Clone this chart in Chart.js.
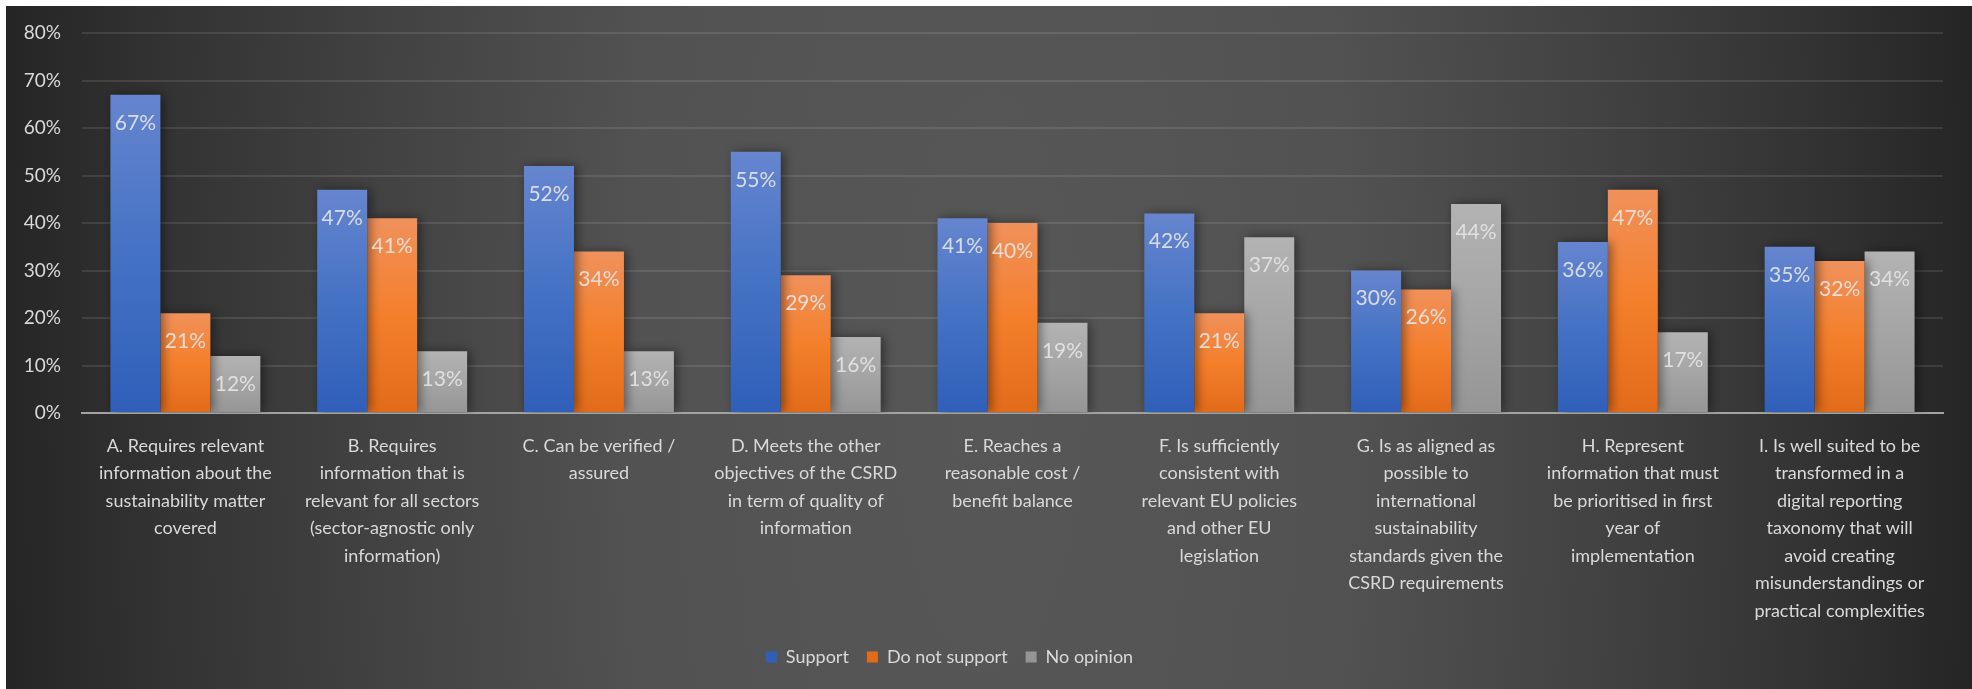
<!DOCTYPE html>
<html>
<head>
<meta charset="utf-8">
<title>ESRS survey</title>
<script src="https://cdn.jsdelivr.net/npm/chart.js@4.4.1/dist/chart.umd.min.js"></script>
<style>
	html, body { margin: 0; padding: 0; background: #fff; overflow: hidden; }
	#chart { position: absolute; left: 6px; top: 6px; }
</style>
</head>
<body>
<canvas id="chart" width="1966" height="683"></canvas>
<script>
var categories = [
	["A. Requires relevant", "information about the", "sustainability matter", "covered"],
	["B. Requires", "information that is", "relevant for all sectors", "(sector-agnostic only", "information)"],
	["C. Can be verified /", "assured"],
	["D. Meets the other", "objectives of the CSRD", "in term of quality of", "information"],
	["E. Reaches a", "reasonable cost /", "benefit balance"],
	["F. Is sufficiently", "consistent with", "relevant EU policies", "and other EU", "legislation"],
	["G. Is as aligned as", "possible to", "international", "sustainability", "standards given the", "CSRD requirements"],
	["H. Represent", "information that must", "be prioritised in first", "year of", "implementation"],
	["I. Is well suited to be", "transformed in a", "digital reporting", "taxonomy that will", "avoid creating", "misunderstandings or", "practical complexities"]
];
var support = [67, 47, 52, 55, 41, 42, 30, 36, 35];
var doNotSupport = [21, 41, 34, 29, 40, 21, 26, 47, 32];
var noOpinion = [12, 13, 13, 16, 19, 37, 44, 17, 34];
var yTicks = [0, 10, 20, 30, 40, 50, 60, 70, 80];

var FONT = "Lato, 'Open Sans', sans-serif";
var TEXT = '#d9d9d9';

// top, middle, bottom shades of each bar
var shades = {
	blue: ['#6685cf', '#4472c4', '#2f5fb9'],
	orange: ['#f0915b', '#f47f2b', '#e26b19'],
	gray: ['#b3b3b3', '#a5a5a5', '#959595']
};

function barFill(shade) {
	return function(context) {
		if (context.type !== 'data')
			return shade[1];
		var y = context.chart.scales.y;
		if (!y || !context.chart.chartArea)
			return shade[1];
		var top = y.getPixelForValue(context.raw);
		var bottom = y.getPixelForValue(0);
		if (!isFinite(top) || !isFinite(bottom) || top === bottom)
			return shade[1];
		var g = context.chart.ctx.createLinearGradient(0, top, 0, bottom);
		g.addColorStop(0, shade[0]);
		g.addColorStop(0.5, shade[1]);
		g.addColorStop(1, shade[2]);
		return g;
	};
}

var background = {
	id: 'background',
	beforeDraw: function(chart) {
		var ctx = chart.ctx;
		var w = chart.width, h = chart.height;
		var cx = w / 2, cy = h * 0.55, sy = 3;
		ctx.save();
		ctx.translate(cx, cy);
		ctx.scale(1, sy);
		var g = ctx.createRadialGradient(0, 0, 0, 0, 0, w * 0.52);
		g.addColorStop(0, '#575757');
		g.addColorStop(0.35, '#525252');
		g.addColorStop(0.6, '#424242');
		g.addColorStop(0.82, '#323232');
		g.addColorStop(1, '#222222');
		ctx.fillStyle = g;
		ctx.fillRect(-cx, -cy / sy, w, h / sy);
		ctx.restore();
	}
};

var barLabels = {
	id: 'barLabels',
	beforeDatasetsDraw: function(chart) {
		var ctx = chart.ctx;
		ctx.save();
		ctx.shadowColor = 'rgba(0, 0, 0, 0.45)';
		ctx.shadowBlur = 10;
		ctx.shadowOffsetX = 3;
	},
	afterDatasetsDraw: function(chart) {
		var ctx = chart.ctx;
		ctx.restore();
		ctx.save();
		ctx.font = '21px ' + FONT;
		ctx.fillStyle = 'rgba(230, 230, 230, 0.9)';
		ctx.textAlign = 'center';
		ctx.textBaseline = 'middle';
		chart.data.datasets.forEach(function(ds, i) {
			chart.getDatasetMeta(i).data.forEach(function(bar, j) {
				ctx.fillText(ds.data[j] + '%', bar.x, bar.y + 28);
			});
		});
		ctx.restore();
	}
};

var legendShift = {
	id: 'legendShift',
	afterLayout: function(chart) {
		chart.legend.left -= 25;
		chart.legend.right -= 25;
	}
};

function createChart() {
	new Chart(document.getElementById('chart'), {
		type: 'bar',
		data: {
			labels: categories,
			datasets: [
				{ label: 'Support', data: support, backgroundColor: barFill(shades.blue) },
				{ label: 'Do not support', data: doNotSupport, backgroundColor: barFill(shades.orange) },
				{ label: 'No opinion', data: noOpinion, backgroundColor: barFill(shades.gray) }
			]
		},
		options: {
			responsive: false,
			animation: false,
			layout: { padding: { top: 27, right: 29, bottom: 13, left: 0 } },
			datasets: {
				bar: { categoryPercentage: 0.725, barPercentage: 1, borderWidth: 0 }
			},
			scales: {
				x: {
					grid: { display: false, drawTicks: false },
					border: { display: true, color: '#a3a3a3', width: 2 },
					ticks: {
						color: TEXT,
						font: { family: FONT, size: 18, lineHeight: 1.53 },
						padding: 19,
						autoSkip: false,
						maxRotation: 0,
						minRotation: 0
					},
					afterFit: function(scale) { scale.height = 217; }
				},
				y: {
					min: 0,
					max: 80,
					afterBuildTicks: function(scale) {
						scale.ticks = yTicks.map(function(v) { return { value: v }; });
					},
					grid: {
						drawTicks: false,
						lineWidth: 2,
						color: function(c) {
							return c.tick && c.tick.value === 0 ? 'rgba(0,0,0,0)' : 'rgba(255, 255, 255, 0.1)';
						}
					},
					border: { display: false },
					ticks: {
						color: TEXT,
						font: { family: FONT, size: 19 },
						padding: 21,
						callback: function(v) { return v + '%'; }
					},
					afterFit: function(scale) {
						scale.width = 76;
						// tick padding would otherwise push the plot top down
						scale.paddingTop = 12;
						scale.paddingBottom = 12;
					}
				}
			},
			plugins: {
				legend: {
					position: 'bottom',
					labels: {
						color: TEXT,
						font: { family: FONT, size: 18 },
						boxWidth: 11,
						boxHeight: 11,
						padding: 18
					}
				},
				tooltip: { enabled: false }
			}
		},
		plugins: [background, barLabels, legendShift]
	});
}

createChart();
</script>
</body>
</html>
